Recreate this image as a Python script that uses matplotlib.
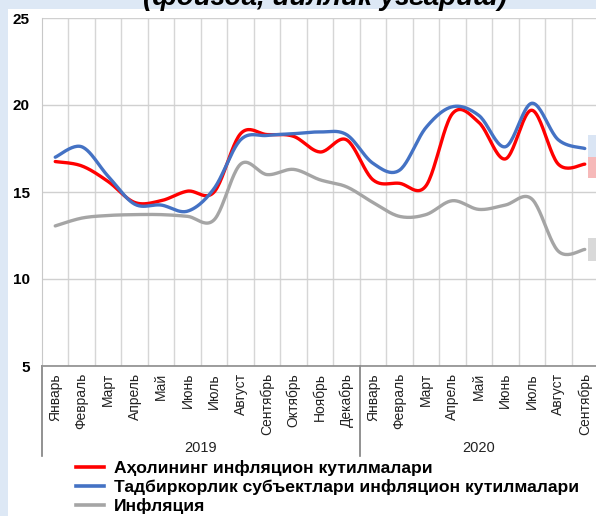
import numpy as np
import matplotlib
matplotlib.use('Agg')
import matplotlib.pyplot as plt
from matplotlib.patches import Rectangle
from matplotlib.lines import Line2D
import matplotlib.transforms as mtransforms

plt.rcParams['font.family'] = ['Liberation Sans', 'DejaVu Sans']

months = ['Январь', 'Февраль', 'Март', 'Апрель', 'Май', 'Июнь', 'Июль', 'Август',
          'Сентябрь', 'Октябрь', 'Ноябрь', 'Декабрь',
          'Январь', 'Февраль', 'Март', 'Апрель', 'Май', 'Июнь', 'Июль', 'Август', 'Сентябрь']
years = ['2019', '2020']
year_counts = [12, 9]

households = [16.75, 16.5, 15.6, 14.4, 14.5, 15.05, 15.0, 18.35, 18.3, 18.2, 17.3, 18.0,
              15.7, 15.5, 15.35, 19.5, 19.0, 16.9, 19.7, 16.6, 16.6]
business = [17.0, 17.6, 15.9, 14.3, 14.25, 13.9, 15.2, 18.0, 18.25, 18.35, 18.45, 18.3,
            16.65, 16.25, 18.7, 19.9, 19.4, 17.6, 20.1, 18.0, 17.5]
inflation = [13.05, 13.5, 13.65, 13.7, 13.7, 13.6, 13.4, 16.6, 16.0, 16.3, 15.7, 15.3,
             14.4, 13.6, 13.7, 14.5, 14.0, 14.25, 14.6, 11.6, 11.7]

series_names = ['Аҳолининг инфляцион кутилмалари',
                'Тадбиркорлик субъектлари инфляцион кутилмалари',
                'Инфляция']
colors = ['#ff0000', '#4472c4', '#a5a5a5']
label_bg = ['#f6b9b9', '#dae5f4', '#d9d9d9']


def smooth(y, n=24):
    """Catmull-Rom style smoothing (like Excel smoothed lines) for drawing."""
    y = np.asarray(y, float)
    x = np.arange(len(y), dtype=float)
    P = np.column_stack([x, y])
    pts = []
    for i in range(len(P) - 1):
        p0 = P[i - 1] if i > 0 else P[i]
        p1 = P[i]
        p2 = P[i + 1]
        p3 = P[i + 2] if i + 2 < len(P) else P[i + 1]
        c1 = p1 + (p2 - p0) / 6.0
        c2 = p2 - (p3 - p1) / 6.0
        t = np.linspace(0, 1, n, endpoint=False)[:, None]
        b = ((1 - t) ** 3) * p1 + 3 * ((1 - t) ** 2) * t * c1 + 3 * (1 - t) * t ** 2 * c2 + t ** 3 * p2
        pts.append(b)
    pts.append(P[-1:])
    pts = np.vstack(pts)
    return pts[:, 0], pts[:, 1]


W, H = 596, 516
fig = plt.figure(figsize=(W / 100, H / 100), dpi=100)
fig.patch.set_facecolor('#dde8f5')
bg = Rectangle((8 / W, 0), 1, 1 - 9 / H, transform=fig.transFigure,
               facecolor='white', edgecolor='none', zorder=-10)
fig.add_artist(bg)

# chart subtitle, mostly cut off by the top edge as in the source
fig.text(325 / W, 1 - 5 / H, '(фоизда, йиллик ўзгариш)', ha='center', va='baseline',
         fontsize=20, style='italic', fontweight='bold', color='black')

ax = fig.add_axes([42 / W, 1 - 366 / H, 556 / W, 348 / H])
ax.set_facecolor('white')
ax.set_xlim(-0.5, len(months) - 0.5)
ax.set_ylim(5, 25)
ax.set_yticks([5, 10, 15, 20, 25])
ax.set_yticklabels(['5', '10', '15', '20', '25'], fontweight='bold', fontsize=11)
ax.tick_params(axis='y', length=0, pad=9)
ax.grid(axis='y', color='#d0d0d0', lw=1)
# vertical gridlines at category boundaries
for b in np.arange(0.5, len(months) - 0.5, 1):
    ax.axvline(b, color='#d6d6d6', lw=1, zorder=0.5)
ax.set_axisbelow(True)

ax.set_xticks(np.arange(len(months)))
ax.set_xticklabels(months, rotation=90, fontsize=10, color='#222222')
ax.tick_params(axis='x', length=0, pad=5)

for s in ['top', 'right']:
    ax.spines[s].set_visible(False)
ax.spines['left'].set_color('#c8c8c8')
ax.spines['bottom'].set_color('#8c8c8c')
ax.spines['bottom'].set_linewidth(1.2)

handles = []
for vals, c, name in zip([households, business, inflation], colors, series_names):
    xs, ys = smooth(vals)
    ax.plot(xs, ys, color=c, lw=2.4, solid_capstyle='round', zorder=3)
    handles.append(Line2D([], [], color=c, lw=2.6, label=name))

# data-label boxes cut off by the right edge (their text lies outside the picture)
offsets = [-2, 2, 0]
for vals, bgc, dy in zip([households, business, inflation], label_bg, offsets):
    ax.annotate('      ', xy=(len(vals) - 1, vals[-1]), xytext=(5, dy),
                textcoords='offset points', ha='left', va='center', fontsize=10,
                annotation_clip=False,
                bbox=dict(boxstyle='square,pad=0.3', fc=bgc, ec='none'))

# multi-level category axis: year groups and separators
trans = mtransforms.blended_transform_factory(ax.transData, ax.transAxes)
sep_bottom = -90 / 348
start = 0
bounds = [-0.5]
for yr, cnt in zip(years, year_counts):
    center = start + (cnt - 1) / 2
    ax.text(center, -82 / 348, yr, transform=trans, ha='center', va='center', fontsize=10.5,
            color='#222222')
    start += cnt
    bounds.append(start - 0.5)
for b in bounds:
    ax.plot([b, b], [0, sep_bottom], transform=trans, color='#7f7f7f', lw=1.2, clip_on=False)

leg = fig.legend(handles=handles, loc='upper left', bbox_to_anchor=(76 / W, 1 - 460 / H),
                 frameon=False, fontsize=12.6, handlelength=1.6, handletextpad=0.55,
                 labelspacing=0.17, borderaxespad=0, borderpad=0)
for t in leg.get_texts():
    t.set_fontweight('bold')

fig.savefig('out.png', dpi=100, facecolor=fig.get_facecolor())
